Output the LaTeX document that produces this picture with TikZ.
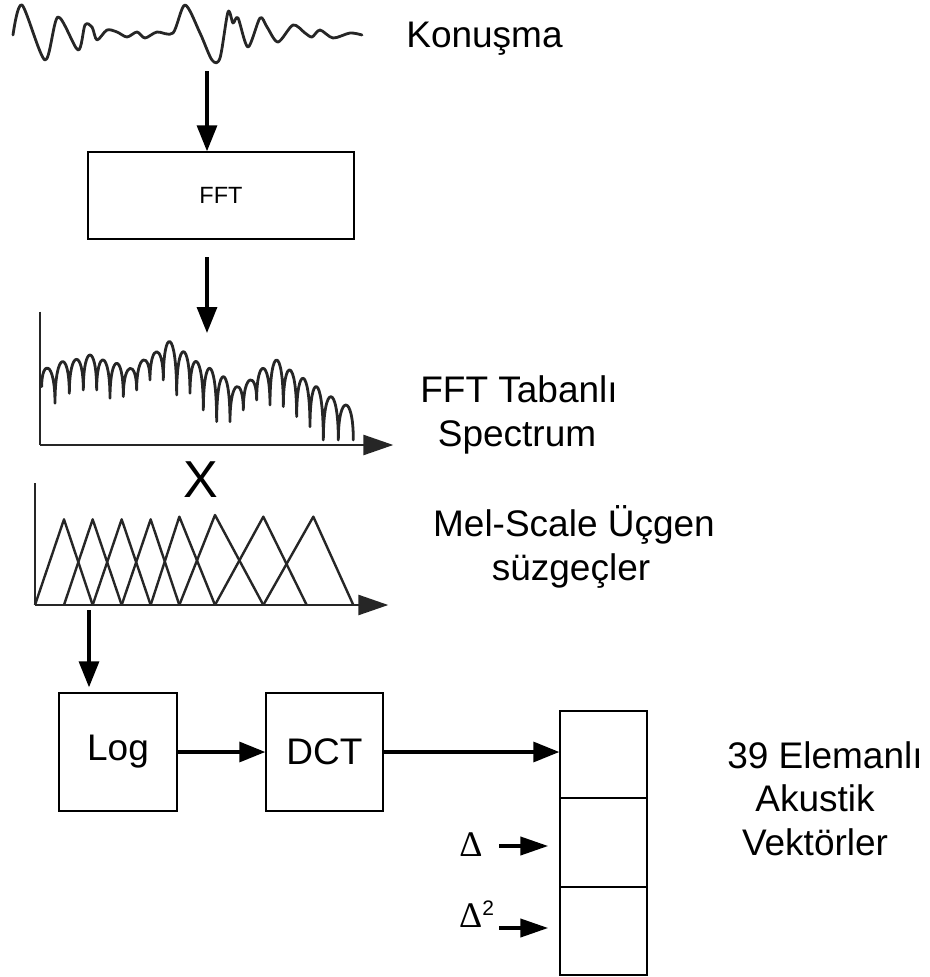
\documentclass[tikz,border=0pt]{standalone}
\usepackage{fontspec}
\setmainfont{Liberation Sans}
\newfontfamily\deltafont{Liberation Serif}
\usetikzlibrary{arrows.meta}
\begin{document}
\begin{tikzpicture}[x=1pt,y=-1pt,
  box/.style={draw,line width=1.4pt,inner sep=0pt,font=\fontsize{37}{44}\selectfont},
  flow/.style={line width=3.3pt,-{Triangle[length=26pt,width=20pt]}},
  darrow/.style={line width=4pt,-{Triangle[length=28pt,width=18pt]}},
  lbl/.style={font=\fontsize{37}{44}\selectfont,anchor=base,inner sep=0pt},
  curve/.style={line width=2.8pt,line join=round,line cap=round,black!85},
  tri/.style={line width=2.4pt,black!85,line join=round},
  axis/.style={line width=2.6pt,black!85},
  axarrow/.style={line width=2.6pt,black!85,-{Triangle[length=30pt,width=20pt]}}]
\useasboundingbox (0,0) rectangle (929,977);

% speech waveform
\draw[curve] plot[smooth,tension=0.5] coordinates {(13,35) (22,5) (45,60) (58,17) (78,50) (85,25) (92,27) (97,40) (107,30) (117,32) (127,37) (137,32) (145,38) (157,32) (173,33) (185,5) (200,33) (212,60) (220,58) (228,12) (233,23) (238,18) (248,47) (260,18) (267,27) (278,42) (293,25) (305,33) (312,37) (320,30) (333,38) (350,33) (362,35)};
\coordinate (wave) at (207,71);
\node[lbl] (konusma) at (484.5,47) {Konuşma};

% FFT box
\node[box,minimum width=266pt,minimum height=87pt,font=\fontsize{23.5}{28}\selectfont] (fft) at (221,195.5) {FFT};
\draw[flow] (wave) -- (wave |- fft.north);
\coordinate (a2s) at (207,257);
\coordinate (spec) at (207,333);
\draw[flow] (a2s) -- (spec);

% spectrum
\begin{scope}[shift={(0,280)},scale=1/3]
  \draw[axis] (120,95) -- (120,495);
  \draw[axarrow] (120,495) -- (1180,495);
  \draw[curve] (125,320)
    foreach \xa/\ya/\xb/\yb/\p in {
      125/320/165/370/265, 165/370/208/340/245, 208/340/250/330/238,
      250/330/290/330/225, 290/330/330/355/240, 330/355/370/350/250,
      370/350/410/330/265, 410/330/450/300/240, 450/300/490/300/215,
      490/300/530/345/185, 530/345/570/340/215, 570/340/610/390/245,
      610/390/650/425/265, 650/425/690/425/290, 690/425/730/390/320,
      730/390/770/360/300, 770/360/810/375/265, 810/375/850/380/240,
      850/380/890/410/270, 890/410/930/440/295, 930/440/970/480/320,
      970/480/1015/480/350, 1015/480/1060/480/375}
    { .. controls (\xa,{\p-((\ya+\yb)/2-\p)/3}) and (\xb,{\p-((\ya+\yb)/2-\p)/3}) .. (\xb,\yb) };
\end{scope}
\node[lbl] (fftt) at (519,402) {FFT Tabanlı};
\node[lbl] (spectrum) at (517,446) {Spectrum};

\node[font=\fontsize{52}{52}\selectfont,anchor=base,inner sep=0pt] (times) at (201,497) {X};

% mel filters
\begin{scope}[shift={(0,460)},scale=1/3]
  \draw[axis] (105,70) -- (105,435);
  \draw[axarrow] (105,435) -- (1165,435);
  \foreach \l/\m/\r/\h in {105/192/278/178, 192/278/365/178, 278/365/452/178,
      365/452/538/178, 452/538/645/170, 538/645/790/165, 645/790/920/170, 790/940/1060/170}
    \draw[tri] (\l,435) -- (\m,\h) -- (\r,435);
\end{scope}
\node[lbl] (mel1) at (574,536) {Mel-Scale Üçgen};
\node[lbl] (mel2) at (571,580) {süzgeçler};
\coordinate (mel) at (89,610);

% Log and DCT
\node[box,minimum width=118pt,minimum height=118pt] (log) at (118,752) {Log};
\node[box,minimum width=117pt,minimum height=118pt] (dct) at (324.5,752) {DCT};
\draw[flow,shorten >=5pt] (mel) -- (mel |- log.north);
\draw[flow] (log.east) -- (dct.west);

% vector
\node[box,minimum width=87pt,minimum height=87pt] (v1) at (603.5,754.5) {};
\node[box,minimum width=87pt,minimum height=89pt] (v2) at (603.5,842.5) {};
\node[box,minimum width=87pt,minimum height=88pt] (v3) at (603.5,931) {};
\draw[flow] (dct.east) -- (dct.east -| v1.west);

\node[anchor=base,inner sep=0pt,font=\deltafont\fontsize{36}{36}\selectfont] (d1) at (471,856) {Δ};
\node[anchor=base west,inner sep=0pt] (d2) at (459,927) {{\deltafont\fontsize{36}{36}\selectfont Δ}\raisebox{12pt}{\fontsize{21}{21}\selectfont 2}};
\coordinate (d1s) at (499,846);
\coordinate (d2s) at (499,928);
\draw[darrow,shorten >=11pt] (d1s) -- (d1s -| v2.west);
\draw[darrow,shorten >=11pt] (d2s) -- (d2s -| v3.west);

\node[lbl] (e1) at (825,768) {39 Elemanlı};
\node[lbl] (e2) at (815,811) {Akustik};
\node[lbl] (e3) at (815,855) {Vektörler};
\end{tikzpicture}
\end{document}
